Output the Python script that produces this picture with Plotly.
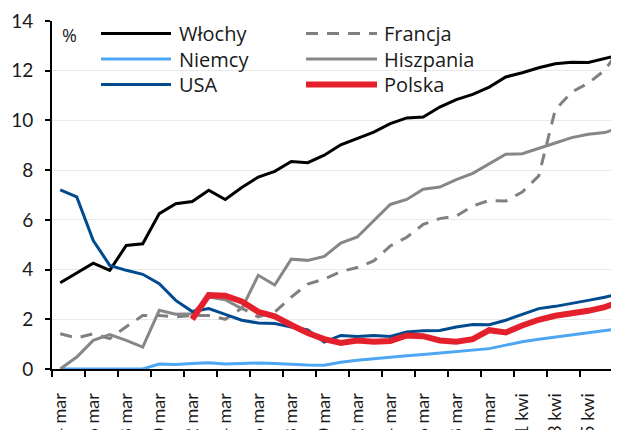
import plotly.graph_objects as go

# ---- data ----
dates = ["4 mar", "5 mar", "6 mar", "7 mar", "8 mar", "9 mar", "10 mar", "11 mar",
         "12 mar", "13 mar", "14 mar", "15 mar", "16 mar", "17 mar", "18 mar", "19 mar",
         "20 mar", "21 mar", "22 mar", "23 mar", "24 mar", "25 mar", "26 mar", "27 mar",
         "28 mar", "29 mar", "30 mar", "31 mar", "1 kwi", "2 kwi", "3 kwi", "4 kwi",
         "5 kwi", "6 kwi", "7 kwi"]

wlochy = [3.47, 3.86, 4.26, 3.97, 4.97, 5.04, 6.25, 6.65, 6.74, 7.19, 6.82, 7.30, 7.72,
          7.95, 8.35, 8.30, 8.60, 9.02, 9.27, 9.53, 9.87, 10.10, 10.14, 10.54, 10.84,
          11.05, 11.34, 11.75, 11.92, 12.12, 12.28, 12.34, 12.33, 12.49, 12.65]
francja = [1.42, 1.25, 1.42, 1.22, 1.70, 2.15, 2.15, 2.10, 2.15, 2.15, 2.00, 2.45, 2.10,
           2.29, 2.89, 3.42, 3.62, 3.92, 4.08, 4.35, 4.95, 5.30, 5.82, 6.05, 6.15, 6.56,
           6.78, 6.76, 7.12, 7.77, 10.43, 11.14, 11.50, 12.02, 12.95]
niemcy = [0, 0, 0, 0, 0, 0, 0.20, 0.18, 0.22, 0.25, 0.20, 0.22, 0.24, 0.22, 0.18, 0.16,
          0.15, 0.27, 0.35, 0.42, 0.48, 0.53, 0.58, 0.64, 0.70, 0.77, 0.82, 0.96, 1.10,
          1.20, 1.28, 1.36, 1.46, 1.52, 1.63]
hiszpania = [0, 0.48, 1.15, 1.38, 1.15, 0.88, 2.36, 2.20, 2.22, 2.90, 2.79, 2.43, 3.77,
             3.38, 4.42, 4.37, 4.53, 5.07, 5.31, 5.98, 6.62, 6.82, 7.23, 7.32, 7.62, 7.87,
             8.26, 8.64, 8.66, 8.86, 9.09, 9.31, 9.44, 9.51, 9.73]
usa = [7.21, 6.92, 5.17, 4.17, 3.97, 3.81, 3.43, 2.76, 2.31, 2.43, 2.20, 1.96, 1.85, 1.83,
       1.69, 1.57, 1.08, 1.35, 1.31, 1.35, 1.31, 1.49, 1.54, 1.55, 1.69, 1.79, 1.78, 1.96,
       2.20, 2.43, 2.52, 2.63, 2.76, 2.89, 3.03]
polska = [None, None, None, None, None, None, None, None, 2.00, 2.97, 2.95, 2.72, 2.30,
          2.12, 1.77, 1.45, 1.20, 1.05, 1.15, 1.10, 1.13, 1.35, 1.32, 1.15, 1.10, 1.20,
          1.56, 1.47, 1.75, 1.98, 2.14, 2.23, 2.34, 2.49, 2.72]

names = ["Włochy", "Francja", "Niemcy", "Hiszpania", "USA", "Polska"]
values = [wlochy, francja, niemcy, hiszpania, usa, polska]
colors = ["#000000", "#808080", "#4da6f2", "#878787", "#004a8f", "#e4202c"]
widths = [3, 3, 3, 3, 3, 6]
dashes = ["solid", "12px,9px", "solid", "solid", "solid", "solid"]

y_ticks = [0, 2, 4, 6, 8, 10, 12, 14]

# ---- layout geometry ----
W, H = 619, 430
OFF = 8                      # page offset of the figure inside the browser window
L, R, T, B = 44, 8, 13, 69
plot_w = W - L - R
plot_h = H - T - B
cat_px = 16.5
x_range = [-0.5, -0.5 + plot_w / cat_px]


def px_x(px):
    return (px - OFF - L) / plot_w


def px_y(py):
    return (H - B - (py - OFF)) / plot_h


Y_TICK_FONT = dict(family="Lato, 'Liberation Sans', sans-serif", size=19, color="#1a1a1a")
X_TICK_FONT = dict(family="Lato, 'Liberation Sans', sans-serif", size=18, color="#1a1a1a")
LEG_FONT = dict(family="'Open Sans', sans-serif", size=20, color="#1a1a1a")

fig = go.Figure()
for name, vals, col, wd, ds in zip(names, values, colors, widths, dashes):
    fig.add_trace(go.Scatter(x=dates, y=vals, name=name, mode="lines",
                             line=dict(color=col, width=wd, dash=ds),
                             connectgaps=False, showlegend=False,
                             hoverinfo="skip"))

# manual two-column legend
shapes = []
annotations = []
col_x0 = [101, 306]
col_x1 = [171, 377]
col_tx = [177, 382]
row_y = [33.5, 59, 84.5]
for k, (name, col, wd, ds) in enumerate(zip(names, colors, widths, dashes)):
    c, r = k % 2, k // 2
    shapes.append(dict(type="line", xref="paper", yref="paper",
                       x0=px_x(col_x0[c]), x1=px_x(col_x1[c]),
                       y0=px_y(row_y[r]), y1=px_y(row_y[r]),
                       line=dict(color=col, width=wd, dash=ds)))
    annotations.append(dict(text=name, xref="paper", yref="paper",
                            x=px_x(col_tx[c]), y=px_y(row_y[r]),
                            xanchor="left", yanchor="middle", showarrow=False,
                            font=LEG_FONT))

annotations.append(dict(text="%", xref="paper", yref="paper", x=px_x(60), y=px_y(35),
                        xanchor="left", yanchor="middle", showarrow=False,
                        font=dict(family="'Open Sans', sans-serif", size=18, color="#1a1a1a")))

# last category label (beyond the visible axis range, partially clipped)
last_idx = len(dates) - 1
annotations.append(dict(text=dates[last_idx], xref="paper", yref="paper",
                        x=(last_idx - x_range[0]) / (x_range[1] - x_range[0]), y=0,
                        xanchor="center", yanchor="top", yshift=-19, textangle=-90,
                        showarrow=False, font=X_TICK_FONT))

fig.update_layout(
    width=W, height=H,
    margin=dict(l=L, r=R, t=T, b=B, pad=0),
    paper_bgcolor="white", plot_bgcolor="white",
    showlegend=False,
    shapes=shapes, annotations=annotations,
    xaxis=dict(type="category", range=x_range, tickmode="linear", tick0=0, dtick=2,
               tickson="boundaries", ticks="outside", ticklen=6, tickwidth=1.5,
               tickcolor="black", showline=True, linecolor="black", linewidth=2,
               tickangle=-90, tickfont=X_TICK_FONT, automargin=False, showgrid=False,
               ticklabelstandoff=15, zeroline=False),
    yaxis=dict(range=[0, 14], tickmode="array", tickvals=y_ticks,
               ticktext=[str(v) for v in y_ticks], ticks="outside", ticklen=5,
               tickwidth=1.5, tickcolor="black", showline=True, linecolor="black",
               linewidth=2, showgrid=True, gridcolor="#e9e9e9", gridwidth=1,
               zeroline=False, tickfont=Y_TICK_FONT, automargin=False,
               ticklabelstandoff=8),
)

fig.write_html("out.html")
